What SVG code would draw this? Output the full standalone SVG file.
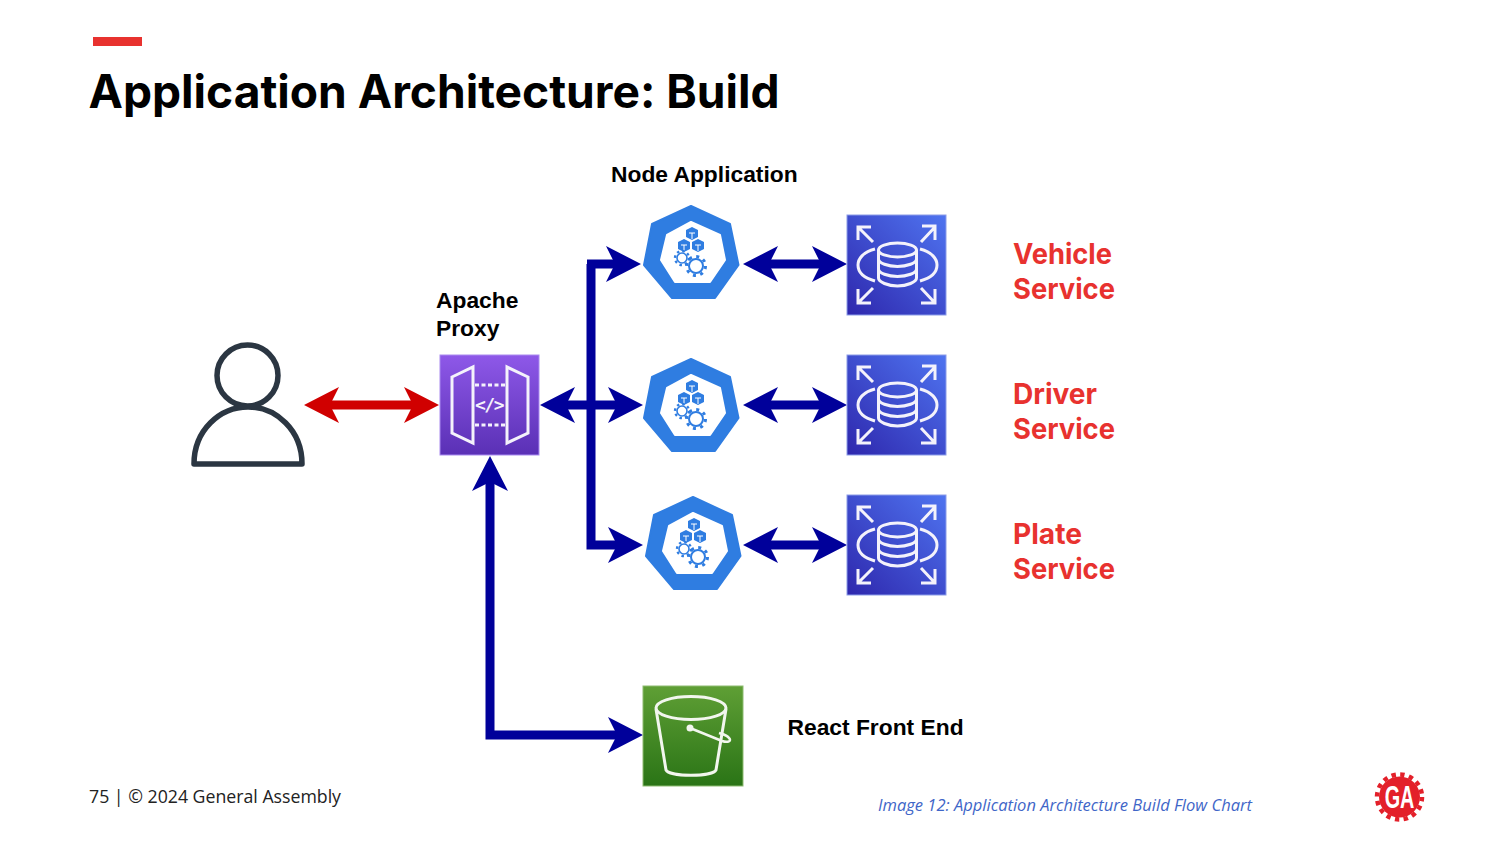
<svg xmlns="http://www.w3.org/2000/svg" xmlns:xlink="http://www.w3.org/1999/xlink" width="1500" height="844" viewBox="0 0 1500 844">
<style>
text{font-family:"Liberation Sans",Arial,sans-serif}
.title{font-family:Inter,"Liberation Sans",sans-serif;font-weight:700;font-size:46px;fill:#000}
.lbl{font-weight:700;font-size:22.800px;fill:#000}
.svc{font-family:Inter,"Liberation Sans",sans-serif;font-weight:700;font-size:28.500px;fill:#e8322f}
.foot{font-family:"Open Sans",sans-serif;font-size:18px;fill:#222}
.cap{font-family:"Open Sans",sans-serif;font-style:italic;font-size:16.500px;fill:#3f66c8}
.conn{fill:none;stroke:#00009a;stroke-width:9}
.wl{fill:none;stroke:#f4f2fb;stroke-width:3;stroke-linejoin:miter}
.kb{fill:none;stroke:#2f7de1}
</style>
<defs>
<marker id="headBlue" markerUnits="userSpaceOnUse" markerWidth="36" markerHeight="38" viewBox="0 0 36 38" refX="12" refY="19" orient="auto-start-reverse"><path d="M0,1 L35,19 L0,37 L9,19 Z" fill="#00009a"/></marker>
<marker id="headRed" markerUnits="userSpaceOnUse" markerWidth="36" markerHeight="38" viewBox="0 0 36 38" refX="12" refY="19" orient="auto-start-reverse"><path d="M0,1 L35,19 L0,37 L9,19 Z" fill="#d00000"/></marker>
<linearGradient id="gRds" x1="0" y1="1" x2="1" y2="0"><stop offset="0" stop-color="#2e27ad"/><stop offset="1" stop-color="#4f74f0"/></linearGradient>
<linearGradient id="gApi" x1="0" y1="1" x2="0" y2="0"><stop offset="0" stop-color="#5a30b5"/><stop offset="1" stop-color="#8e58e8"/></linearGradient>
<linearGradient id="gS3" x1="0" y1="1" x2="0" y2="0"><stop offset="0" stop-color="#2a7416"/><stop offset="1" stop-color="#5f9f35"/></linearGradient>
<g id="kube">
<path d="M691,206 L730,224 L738.500,265 L715,298 L672,298 L644,265 L652,224 Z" fill="#2f7de1" stroke="#2f7de1" stroke-width="2" stroke-linejoin="round"/>
<path d="M691,222 L720,235 L725,260 L710,282 L675,282 L661,260 L667,235 Z" fill="#fff" stroke="#fff" stroke-width="2" stroke-linejoin="round"/>
<path d="M692,227 L698,230 L698,237 L692,240 L686,237 L686,230 Z" fill="#2f7de1"/>
<path d="M684,239 L690,242 L690,249 L684,252 L678,249 L678,242 Z" fill="#2f7de1"/>
<path d="M698,239 L704,242 L704,249 L698,252 L692,249 L692,242 Z" fill="#2f7de1"/>
<path d="M689,233 H695 M692,233 V239 M681,245 H687 M684,245 V251 M695,245 H701 M698,245 V251" stroke="#fff" stroke-width="1" fill="none"/>
<circle class="kb" cx="682" cy="258" r="5" stroke-width="1.600"/>
<circle class="kb" cx="682" cy="258" r="7" stroke-width="2.400" stroke-dasharray="2.500 3"/>
<circle class="kb" cx="696" cy="266" r="7" stroke-width="2"/>
<circle class="kb" cx="696" cy="266" r="9.500" stroke-width="3" stroke-dasharray="3 4.450"/>
</g>
<g id="rds">
<rect x="847" y="215" width="99" height="100" fill="url(#gRds)" stroke="#8b9ce8" stroke-width="1"/>
<ellipse class="wl" cx="897.500" cy="250" rx="19" ry="7"/>
<path class="wl" d="M878.500,250 V278 C878.500,282 888,286 897.500,286 C907,286 916.500,282 916.500,278 V250 M878.500,259 C878.500,263 888,266.500 897.500,266.500 C907,266.500 916.500,263 916.500,259 M878.500,269 C878.500,273 888,276.500 897.500,276.500 C907,276.500 916.500,273 916.500,269"/>
<path class="wl" d="M875,249 C863,252 858,259 858,265 C858,272 864,278 875,281 M920,249 C932,252 937,259 937,265 C937,272 931,278 920,281"/>
<path class="wl" d="M873,242 L858,227 M858,240 V227 H871 M921,242 L935,227 M922,226 H935 V240 M873,288 L858,303 M858,289 V303 H871 M921,288 L935,303 M935,289 V303 H921"/>
</g>
</defs>

<g id="header">
<rect x="93" y="37" width="49" height="9" fill="#e8322f"/>
<text class="title" x="88.500" y="108" textLength="691" lengthAdjust="spacingAndGlyphs">Application Architecture: Build</text>
</g>

<g id="connectors">
<line class="conn" style="stroke:#d00000" x1="327" y1="405" x2="416" y2="405" marker-start="url(#headRed)" marker-end="url(#headRed)"/>
<line class="conn" x1="563" y1="405" x2="620" y2="405" marker-start="url(#headBlue)" marker-end="url(#headBlue)"/>
<line class="conn" x1="587" y1="264" x2="618" y2="264" marker-end="url(#headBlue)"/>
<path class="conn" d="M591,264 V545 H620" marker-end="url(#headBlue)"/>
<path class="conn" d="M490,479 V735 H620" marker-start="url(#headBlue)" marker-end="url(#headBlue)"/>
<line class="conn" x1="766" y1="264" x2="824" y2="264" marker-start="url(#headBlue)" marker-end="url(#headBlue)"/>
<line class="conn" x1="766" y1="405" x2="824" y2="405" marker-start="url(#headBlue)" marker-end="url(#headBlue)"/>
<line class="conn" x1="766" y1="545" x2="824" y2="545" marker-start="url(#headBlue)" marker-end="url(#headBlue)"/>
</g>

<g id="user">
<circle cx="247.500" cy="375.500" r="30.500" fill="none" stroke="#2b3642" stroke-width="5.500"/>
<path d="M194,464 C194,430 220,407 248,407 C276,407 302,430 302,464 Z" fill="none" stroke="#2b3642" stroke-width="5.500" stroke-linejoin="round"/>
</g>

<g id="apache-proxy">
<rect x="440" y="355" width="99" height="100" fill="url(#gApi)" stroke="#a98af0" stroke-width="1"/>
<path class="wl" d="M452,377 L473,367 V443 L452,433 Z M528,377 L507,367 V443 L528,433 Z"/>
<path class="wl" stroke-dasharray="4 2.500" d="M475,385 H505 M475,425 H505"/>
<text x="489" y="411" text-anchor="middle" style="font-family:'DejaVu Sans Mono',monospace;font-weight:700;font-size:18px;letter-spacing:-1.500px;fill:#f4f2fb">&lt;/&gt;</text>
<text class="lbl" x="436" y="308">Apache</text>
<text class="lbl" x="436" y="336">Proxy</text>
</g>

<g id="node-application">
<use href="#kube"/>
<text class="lbl" x="611" y="182">Node Application</text>
</g>
<g id="node-driver"><use href="#kube" y="153"/></g>
<g id="node-plate"><use href="#kube" x="2" y="291"/></g>

<g id="vehicle-service">
<use href="#rds"/>
<text class="svc" x="1013" y="264" textLength="99" lengthAdjust="spacingAndGlyphs">Vehicle</text>
<text class="svc" x="1013" y="299" textLength="102" lengthAdjust="spacingAndGlyphs">Service</text>
</g>
<g id="driver-service">
<use href="#rds" y="140"/>
<text class="svc" x="1013" y="404" textLength="84" lengthAdjust="spacingAndGlyphs">Driver</text>
<text class="svc" x="1013" y="439" textLength="102" lengthAdjust="spacingAndGlyphs">Service</text>
</g>
<g id="plate-service">
<use href="#rds" y="280"/>
<text class="svc" x="1013" y="544" textLength="69" lengthAdjust="spacingAndGlyphs">Plate</text>
<text class="svc" x="1013" y="579" textLength="102" lengthAdjust="spacingAndGlyphs">Service</text>
</g>

<g id="react-front-end">
<rect x="643" y="686" width="100" height="100" fill="url(#gS3)" stroke="#8dbb70" stroke-width="1"/>
<ellipse cx="691" cy="708" rx="35" ry="11.500" fill="none" stroke="#f2f6ee" stroke-width="3"/>
<path d="M656,709 L666,770 C670,777 712,777 716,770 L726,709" fill="none" stroke="#f2f6ee" stroke-width="3"/>
<circle cx="690" cy="728" r="3.500" fill="#f2f6ee"/>
<path d="M690,728 L722,741 C728,743 732,741 729,738 C727,735 722,734 719,733" fill="none" stroke="#f2f6ee" stroke-width="2.500"/>
<text class="lbl" x="787.500" y="735">React Front End</text>
</g>

<g id="footer">
<text class="foot" x="89" y="803" textLength="252" lengthAdjust="spacingAndGlyphs">75 | © 2024 General Assembly</text>
<text class="cap" x="878" y="811" textLength="374" lengthAdjust="spacingAndGlyphs">Image 12: Application Architecture Build Flow Chart</text>
</g>

<g id="ga-logo">
<circle cx="1399.500" cy="797" r="20.500" fill="#e3202a"/>
<circle cx="1399.500" cy="797" r="22.500" fill="none" stroke="#e3202a" stroke-width="4.500" stroke-dasharray="4.400 4.440"/>
<text transform="translate(1399.500 808) scale(0.62 1)" text-anchor="middle" style="font-weight:700;font-size:32px;fill:#fff">GA</text>
</g>
</svg>
